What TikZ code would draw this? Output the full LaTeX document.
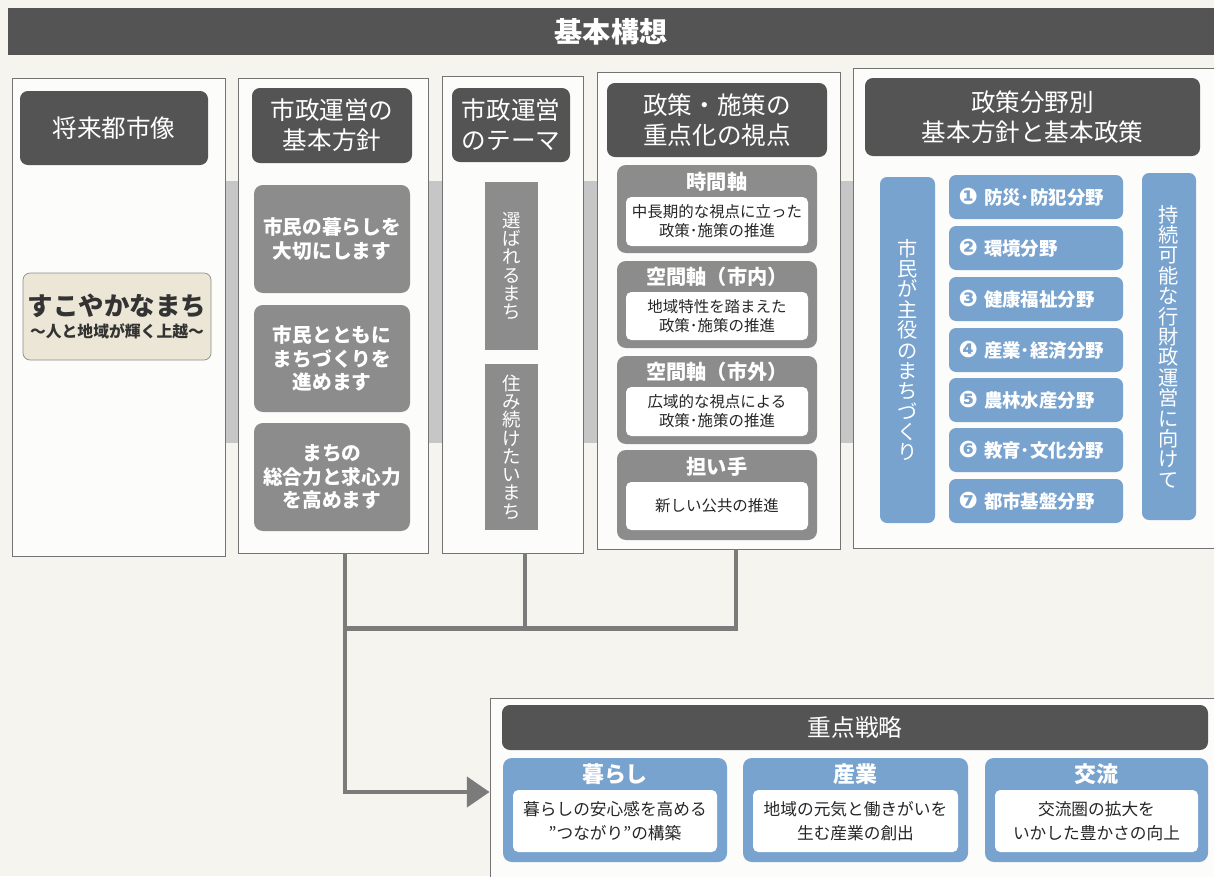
\documentclass[tikz,border=0pt]{standalone}
\usepackage{fontspec}
\setmainfont{Noto Sans CJK JP}
\newfontfamily\djv{DejaVu Sans}
\newcommand\fieldno[1]{{\djv\fontsize{13}{12}\selectfont #1}}
\usetikzlibrary{positioning,calc,arrows.meta}

\definecolor{bgpaper}{HTML}{F6F4EE}
\definecolor{darkbar}{HTML}{545454}
\definecolor{midgray}{HTML}{8C8C8C}
\definecolor{bandgray}{HTML}{C6C6C6}
\definecolor{bluebox}{HTML}{78A3CF}
\definecolor{creambox}{HTML}{EBE6D6}
\definecolor{linkgray}{HTML}{7B7B7B}

\begin{document}
\begin{tikzpicture}[
x=0.02cm, y=-0.02cm,
spot/.style n args={4}{at={({(#1+#3)/2},{(#2+#4)/2})}, minimum width={(#3-#1)*0.02cm}, minimum height={(#4-#2)*0.02cm}, inner sep=0pt},
panel/.style={draw=black!55, line width=0.4pt, fill=white!70!bgpaper},
titlebar/.style={fill=darkbar, text=white, font=\fontsize{16}{18}\selectfont\bfseries},
head/.style={fill=darkbar, rounded corners=4.5pt, text=white, align=center, font=\fontsize{14}{17}\selectfont},
policy/.style={fill=midgray, rounded corners=5pt, text=white, align=center, font=\fontsize{11.2}{13.4}\selectfont\bfseries},
theme/.style={fill=midgray, text=white, align=center, font=\fontsize{10.5}{10.4}\selectfont},
axis/.style={fill=midgray, rounded corners=5pt},
axtitle/.style={text=white, inner sep=0pt, font=\fontsize{11.5}{13}\selectfont\bfseries},
inbox/.style={fill=white, rounded corners=3pt, align=center, text=black!85, font=\fontsize{8.8}{10.8}\selectfont},
bluev/.style={fill=bluebox, rounded corners=4pt, text=white, align=center, font=\fontsize{11.5}{11.6}\selectfont},
field/.style={fill=bluebox, rounded corners=4pt, text=white, align=left, text width=3.1cm, font=\fontsize{10.5}{12}\selectfont\bfseries},
strat/.style={fill=bluebox, rounded corners=5pt},
sttitle/.style={text=white, inner sep=0pt, font=\fontsize{12.5}{14}\selectfont\bfseries},
stbox/.style={fill=white, rounded corners=3pt, align=center, text=black!85, font=\fontsize{9.5}{14}\selectfont},
link/.style={draw=linkgray, line width=2.8pt}
]
\path[use as bounding box, fill=bgpaper] (0,0) rectangle (1214,876);

\node (title) [titlebar, spot={8}{8}{1214}{55}] {基本構想};

% gray band behind the columns
\fill[bandgray] (225,181) rectangle (855,443);

% columns
\node (p1) [panel, spot={12}{78}{225}{556}] {};
\node (p2) [panel, spot={238}{78}{428}{553}] {};
\node (p3) [panel, spot={442}{76}{583}{553}] {};
\node (p4) [panel, spot={597}{72}{840}{549}] {};
\node (p5) [panel, spot={853}{68}{1224}{548}] {};

\node (h1) [head, spot={20}{91}{208}{165}] {将来都市像};
\node (h2) [head, spot={252}{88}{412}{163}] {市政運営の\\基本方針};
\node (h3) [head, spot={452}{88}{570}{162}] {市政運営\\のテーマ};
\node (h4) [head, spot={607}{83}{827}{157}] {政策・施策の\\重点化の視点};
\node (h5) [head, spot={865}{78}{1200}{156}] {政策分野別\\基本方針と基本政策};

% future image
\node (vision) [draw=black!45, fill=creambox, rounded corners=4pt, align=center, text=black!80,
  spot={23}{273}{211}{360}] {{\fontsize{14.5}{17}\selectfont\bfseries すこやかなまち}\\[1pt]{\fontsize{9}{11}\selectfont\bfseries ～人と地域が輝く上越～}};

% basic policies
\node (bp1) [policy, spot={254}{185}{410}{293}] {市民の暮らしを\\大切にします};
\node (bp2) [policy, spot={254}{305}{410}{412}] {市民とともに\\まちづくりを\\進めます};
\node (bp3) [policy, spot={254}{423}{410}{531}] {まちの\\総合力と求心力\\を高めます};

% themes
\node (th1) [theme, spot={485}{182}{538}{350}] {選\\ば\\れ\\る\\ま\\ち};
\node (th2) [theme, spot={485}{364}{538}{530}] {住\\み\\続\\け\\た\\い\\ま\\ち};

% viewpoints
\node (ax1) [axis, spot={617}{165}{817}{253}] {};
\node (ax2) [axis, spot={617}{261}{817}{348}] {};
\node (ax3) [axis, spot={617}{356}{817}{444}] {};
\node (ax4) [axis, spot={617}{450}{817}{540}] {};
\node (axt1) [axtitle] at (717,182) {時間軸};
\node (axt2) [axtitle] at (717,277) {空間軸（市内）};
\node (axt3) [axtitle] at (717,372) {空間軸（市外）};
\node (axt4) [axtitle] at (717,467) {担い手};
\node (in1) [inbox, spot={626}{197}{808}{246}] {中長期的な視点に立った\\政策･施策の推進};
\node (in2) [inbox, spot={626}{292}{808}{340}] {地域特性を踏まえた\\政策･施策の推進};
\node (in3) [inbox, spot={626}{387}{808}{436}] {広域的な視点による\\政策･施策の推進};
\node (in4) [inbox, spot={626}{482}{808}{530}] {新しい公共の推進};

% policy fields
\node (citz) [bluev, spot={880}{177}{935}{523}] {市\\民\\が\\主\\役\\の\\ま\\ち\\づ\\く\\り};
\node (fisc) [bluev, spot={1142}{173}{1196}{520}] {持\\続\\可\\能\\な\\行\\財\\政\\運\\営\\に\\向\\け\\て};
\node (f1) [field, spot={949}{175}{1123}{219}] {\fieldno{❶} 防災･防犯分野};
\node (f2) [field, spot={949}{226}{1123}{270}] {\fieldno{❷} 環境分野};
\node (f3) [field, spot={949}{277}{1123}{321}] {\fieldno{❸} 健康福祉分野};
\node (f4) [field, spot={949}{328}{1123}{372}] {\fieldno{❹} 産業･経済分野};
\node (f5) [field, spot={949}{378}{1123}{422}] {\fieldno{❺} 農林水産分野};
\node (f6) [field, spot={949}{428}{1123}{472}] {\fieldno{❻} 教育･文化分野};
\node (f7) [field, spot={949}{479}{1123}{523}] {\fieldno{❼} 都市基盤分野};

% priority strategies
\node (st) [panel, spot={490}{698}{1224}{886}] {};
\node (sth) [head, font=\fontsize{13.5}{16}\selectfont, spot={502}{705}{1208}{750}] {重点戦略};
\node (s1) [strat, spot={503}{758}{727}{862}] {};
\node (s2) [strat, spot={743}{758}{968}{862}] {};
\node (s3) [strat, spot={985}{758}{1208}{862}] {};
\node (st1) [sttitle] at (615,774) {暮らし};
\node (st2) [sttitle] at (855,774) {産業};
\node (st3) [sttitle] at (1096,774) {交流};
\node (sb1) [stbox, spot={513}{790}{717}{852}] {暮らしの安心感を高める\\"つながり"の構築};
\node (sb2) [stbox, spot={753}{790}{958}{852}] {地域の元気と働きがいを\\生む産業の創出};
\node (sb3) [stbox, spot={995}{790}{1198}{852}] {交流圏の拡大を\\いかした豊かさの向上};

% connectors
\coordinate (bus) at ($(p2.south)+(12,75)$);
\draw[link] ($(p4.south)+(17.5,0)$) |- (bus);
\draw[link] ($(p3.south)+(12.5,0)$) |- (bus);
\draw[link, -{Triangle[length=13pt,width=17pt]}] ($(p2.south)+(12,0)$) |- (st.west);

\end{tikzpicture}
\end{document}
